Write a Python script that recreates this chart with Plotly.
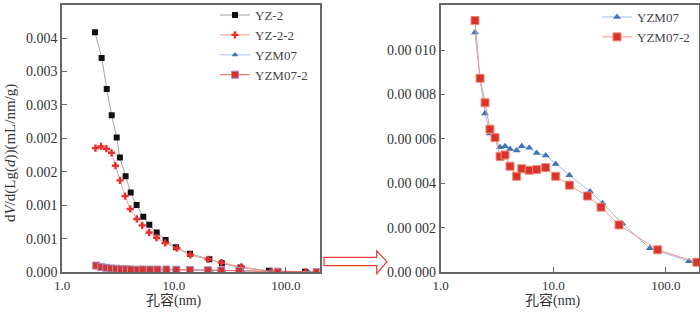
import plotly.graph_objects as go

# ---------------- data ----------------
yz2_d = [1.97, 2.26, 2.51, 2.78, 3.08, 3.29, 3.70, 4.11, 4.64, 5.32, 6.02, 7.01, 8.43, 10.4, 13.9, 20.7, 26.8, 39.2, 70.5, 148]
yz2_v = [0.00410, 0.00366, 0.00313, 0.00268, 0.00230, 0.00196, 0.00164, 0.00136, 0.00115, 0.00095,
         0.00081, 0.00068, 0.00055, 0.000425, 0.000317, 0.000224, 0.000152, 0.000081, 0.000025, 0.000008]

yz22_d = [1.99, 2.23, 2.49, 2.77, 3.0, 3.3, 3.66, 4.07, 4.66, 5.2, 6.0, 7.0, 8.35, 10.6, 14.0, 20.2, 26.6, 40.0, 74.5, 150]
yz22_v = [0.00212, 0.00215, 0.00211, 0.00204, 0.00182, 0.00157, 0.00130, 0.00108, 0.00091, 0.00080,
          0.00068, 0.00059, 0.00050, 0.00041, 0.000295, 0.000222, 0.000165, 0.000093, 0.000014, 0.000008]

yzm07_d = [2.02, 2.24, 2.48, 2.74, 3.04, 3.37, 3.73, 4.13, 4.73, 5.25, 6.12, 7.12, 8.56, 10.5, 13.9, 21.2, 27.4, 41.0, 72.0, 160]
yzm07_v = [0.0001079, 0.0000866, 0.0000715, 0.0000625, 0.0000604, 0.0000563, 0.0000567, 0.0000555, 0.0000548, 0.0000567,
           0.0000560, 0.0000537, 0.0000526, 0.0000487, 0.0000437, 0.0000363, 0.0000311, 0.0000219, 0.0000108, 0.0000050]

yzm072_d = [2.02, 2.24, 2.48, 2.74, 3.04, 3.37, 3.73, 4.13, 4.73, 5.25, 6.12, 7.12, 8.56, 10.5, 13.9, 20.1, 26.5, 38.3, 84.4, 188]
yzm072_v = [0.0001133, 0.0000873, 0.0000763, 0.0000644, 0.0000606, 0.0000521, 0.0000528, 0.0000477, 0.0000432, 0.0000466,
            0.0000459, 0.0000462, 0.0000471, 0.0000432, 0.0000392, 0.0000343, 0.0000293, 0.0000213, 0.0000101, 0.0000045]

x_tickvals = [1, 10, 100]
x_ticktext = ["1.0", "10.0", "100.0"]
left_y_tickvals = [0, 0.000571, 0.001143, 0.001714, 0.002286, 0.002857, 0.003429, 0.004]
left_y_ticktext = ["0.000", "0.001", "0.001", "0.002", "0.002", "0.003", "0.003", "0.004"]
right_y_tickvals = [0, 0.00002, 0.00004, 0.00006, 0.00008, 0.00010]
right_y_ticktext = ["0.00 000", "0.00 002", "0.00 004", "0.00 006", "0.00 008", "0.00 010"]

W, H = 700, 314
FONT = "Liberation Serif, Times New Roman, Noto Sans CJK SC, serif"

fig = go.Figure()

# ---------- left panel ----------
fig.add_trace(go.Scatter(x=yz2_d, y=yz2_v, name="YZ-2", mode="lines+markers",
                         line=dict(color="#a0a0a0", width=1, shape="spline", smoothing=0.5),
                         marker=dict(symbol="square", size=6, color="#111111"),
                         xaxis="x", yaxis="y", legend="legend"))
fig.add_trace(go.Scatter(x=yz22_d, y=yz22_v, name="YZ-2-2", mode="lines+markers",
                         line=dict(color="#f49a88", width=1, shape="spline", smoothing=0.5),
                         marker=dict(symbol="cross", size=6, color="#ee2c2c"),
                         xaxis="x", yaxis="y", legend="legend"))
fig.add_trace(go.Scatter(x=yzm07_d, y=yzm07_v, name="YZM07", mode="lines+markers",
                         line=dict(color="#a9c2e6", width=1),
                         marker=dict(symbol="triangle-up", size=6, color="#3f79c0"),
                         xaxis="x", yaxis="y", legend="legend"))
fig.add_trace(go.Scatter(x=yzm072_d, y=yzm072_v, name="YZM07-2", mode="lines+markers",
                         line=dict(color="#e8604f", width=1),
                         marker=dict(symbol="square", size=7, color="#d5342c",
                                     line=dict(color="#a58bc4", width=1)),
                         xaxis="x", yaxis="y", legend="legend"))

# ---------- right panel ----------
fig.add_trace(go.Scatter(x=yzm07_d, y=yzm07_v, name="YZM07", mode="lines+markers",
                         line=dict(color="#9dbce6", width=1),
                         marker=dict(symbol="triangle-up", size=7, color="#3b75bd"),
                         xaxis="x2", yaxis="y2", legend="legend2"))
fig.add_trace(go.Scatter(x=yzm072_d, y=yzm072_v, name="YZM07-2", mode="lines+markers",
                         line=dict(color="#f09886", width=1),
                         marker=dict(symbol="square", size=8, color="#d8342c",
                                     line=dict(color="#f08a78", width=1)),
                         xaxis="x2", yaxis="y2", legend="legend2"))

ydom = [1 - 271.7 / H, 1 - 1 / H]
axis_common = dict(showline=True, mirror=True, linecolor="#666666", linewidth=1.5,
                   ticks="inside", ticklen=5, tickcolor="#666666", tickwidth=1,
                   showgrid=False, zeroline=False, automargin=False)
xfont = dict(family=FONT, size=13, color="#333333")
yfont = dict(family=FONT, size=14, color="#333333")

fig.update_layout(
    width=W, height=H, autosize=False,
    margin=dict(l=0, r=0, t=0, b=0, pad=0),
    paper_bgcolor="white", plot_bgcolor="white",
    font=dict(family=FONT, size=13, color="#333333"),
    xaxis=dict(domain=[62 / W, 319.5 / W], type="log", range=[0, 2.3], tickfont=xfont,
               tickvals=x_tickvals, ticktext=x_ticktext, anchor="y", **axis_common),
    yaxis=dict(domain=ydom, range=[0, 0.004565], tickvals=left_y_tickvals, tickfont=yfont,
               ticktext=left_y_ticktext, anchor="x", **axis_common),
    xaxis2=dict(domain=[440.6 / W, 699 / W], type="log", range=[0, 2.293], tickfont=xfont,
                tickvals=x_tickvals, ticktext=x_ticktext, anchor="y2", **axis_common),
    yaxis2=dict(domain=ydom, range=[0, 0.0001203], tickvals=right_y_tickvals, tickfont=yfont,
                ticktext=right_y_ticktext, anchor="x2", **axis_common),
    legend=dict(x=215 / W, y=1 + 4 / H, xanchor="left", yanchor="top",
                bgcolor="rgba(0,0,0,0)", font=dict(family=FONT, size=13, color="#444444"),
                tracegroupgap=0),
    legend2=dict(x=597 / W, y=1 + 2 / H, xanchor="left", yanchor="top",
                 bgcolor="rgba(0,0,0,0)", font=dict(family=FONT, size=13, color="#444444"),
                 tracegroupgap=0),
    showlegend=True,
)

def px(x):
    return x / W

def py(y):
    return 1 - y / H

# hollow arrow between panels
pts = [(324, 256.7), (376.7, 256.7), (376.7, 250), (387, 261), (376.7, 273), (376.7, 265), (324, 265)]
path = "M " + " L ".join(f"{px(a):.5f},{py(b):.5f}" for a, b in pts) + " Z"
fig.add_shape(type="path", path=path, xref="paper", yref="paper",
              line=dict(color="#e8392e", width=1.2), fillcolor="white")

# titles
fig.add_annotation(text="d<i>V</i>/d(Lg(<i>d</i>))(mL/nm/g)", textangle=-90,
                   x=px(10), y=py(151), xref="paper", yref="paper", showarrow=False,
                   xanchor="center", yanchor="middle",
                   font=dict(family=FONT, size=15, color="#333333"))
for cx in (174, 553):
    fig.add_annotation(text="孔容(nm)", x=px(cx), y=py(300), xref="paper", yref="paper",
                       showarrow=False, xanchor="center", yanchor="middle",
                       font=dict(family=FONT, size=14, color="#333333"))

fig.write_html("out.html", config={"displayModeBar": False},
               post_script="document.body.style.margin='0';document.body.style.padding='0';")
